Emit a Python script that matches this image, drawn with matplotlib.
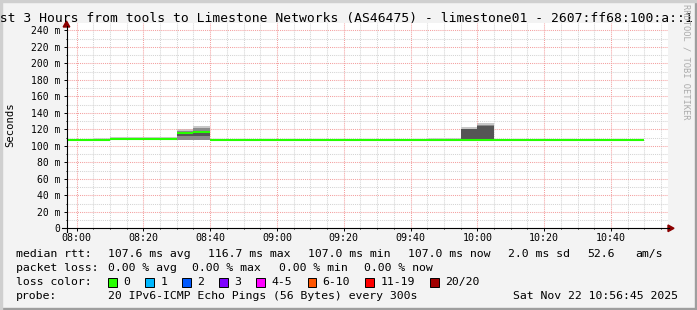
import matplotlib
matplotlib.use("Agg")
import matplotlib.pyplot as plt
from matplotlib.patches import Rectangle, Polygon
from matplotlib.ticker import MultipleLocator

# --- data: minutes after 08:00, rtt in ms ---
step_start = list(range(-5, 170, 5))
median_rtt = [107.0, 107.0, 107.0, 108.5, 108.5, 108.5, 108.5, 115.5, 116.7,
              107.0, 107.0, 107.0, 107.0, 107.0, 107.0, 107.0, 107.0, 107.0,
              107.0, 107.0, 107.0, 107.0, 107.0, 107.0, 107.0, 107.0, 107.0,
              107.0, 107.0, 107.0, 107.0, 107.0, 107.0, 107.0, 107.0]

# smoke (spread of the 20 pings) for the steps that show any
smoke_start = [5, 10, 15, 20, 25, 30, 35, 70, 75, 105, 110, 115, 120]
smoke_lo = [107.0, 107.5, 107.5, 107.5, 107.5, 107.5, 107.5, 107.0, 107.0, 107.0, 107.0, 107.5, 107.5]
smoke_hi = [110.0, 110.5, 110.5, 110.5, 110.5, 120.4, 124.0, 108.8, 108.8, 109.2, 109.2, 122.4, 128.0]
smoke_mid = [107.0, 108.0, 108.0, 108.0, 108.0, 118.5, 121.5, 107.0, 107.0, 107.0, 107.0, 120.4, 125.8]
core_lo = [107.0, 107.5, 107.5, 107.5, 107.5, 112.3, 112.3, 107.0, 107.0, 107.0, 107.0, 107.5, 107.5]
core_hi = [107.0, 107.5, 107.5, 107.5, 107.5, 114.5, 115.0, 107.0, 107.0, 107.0, 107.0, 120.4, 124.0]

time_labels = ["08:00", "08:20", "08:40", "09:00", "09:20", "09:40", "10:00", "10:20", "10:40"]
y_ticks = [0, 20, 40, 60, 80, 100, 120, 140, 160, 180, 200, 220, 240]

loss_labels = ["0", "1", "2", "3", "4-5", "6-10", "11-19", "20/20"]
loss_colors = ["#26ff00", "#00b8ff", "#0059ff", "#7e00ff", "#ff00ff", "#ff5500", "#ff0000", "#a10000"]

W, H = 697, 310
BG = "#f3f3f3"
MONO = "DejaVu Sans Mono"

fig = plt.figure(figsize=(W / 100, H / 100), dpi=100, facecolor=BG)

# plot area in pixels
L, R, T, B = 66.5, 667.7, 23.0, 228.3
ax = fig.add_axes([L / W, 1 - B / H, (R - L) / W, (B - T) / H])
ax.set_facecolor("white")
ax.set_xlim(-3.0, 177.0)
ax.set_ylim(0, (B - T) / 0.825)
for s in ax.spines.values():
    s.set_visible(False)


def fx(x):
    return x / W


def fy(y):
    return 1 - y / H


# smoke
ax.bar(smoke_start, [h - l for h, l in zip(smoke_hi, smoke_lo)], bottom=smoke_lo,
       width=5, align="edge", color="#c8c8c8", linewidth=0, zorder=2)
ax.bar(smoke_start, [m - l for m, l in zip(smoke_mid, smoke_lo)], bottom=smoke_lo,
       width=5, align="edge", color="#8c8c8c", linewidth=0, zorder=3)
ax.bar(smoke_start, [h - l for h, l in zip(core_hi, core_lo)], bottom=core_lo,
       width=5, align="edge", color="#555555", linewidth=0, zorder=4)

# median line, one flat piece per 5 minute step
step_end = [s + 5 for s in step_start]
ax.hlines(median_rtt, step_start, step_end, color="#26ff00", linewidth=1.5, zorder=5)

# grid (drawn over the data like rrdtool)
ax.xaxis.set_major_locator(MultipleLocator(20))
ax.xaxis.set_minor_locator(MultipleLocator(5))
ax.yaxis.set_major_locator(MultipleLocator(20))
ax.yaxis.set_minor_locator(MultipleLocator(10))
ax.grid(which="minor", color="#d4d4d4", linestyle=(0, (1, 1)), linewidth=0.75, zorder=6)
ax.grid(which="major", color="#f4a0a0", linestyle=(0, (1, 1)), linewidth=0.75, zorder=7)
ax.set_axisbelow(False)

ax.set_xticks(range(0, 161, 20))
ax.set_xticklabels(time_labels, family=MONO, fontsize=7.2)
ax.set_yticks(y_ticks)
ax.set_yticklabels([f"{v} m" if v else "0" for v in y_ticks], family=MONO, fontsize=7.0)
ax.tick_params(which="major", direction="out", length=2, width=0.7, color="#000000", pad=2.5)
ax.tick_params(axis="x", which="major", pad=1.5)
ax.tick_params(which="minor", direction="out", length=1, width=0.7, color="#000000")

# axes with arrows
fig.add_artist(plt.Line2D([fx(62), fx(669)], [fy(B), fy(B)], color="black", linewidth=0.8))
fig.add_artist(plt.Line2D([fx(L), fx(L)], [fy(232), fy(26)], color="black", linewidth=0.8))
fig.add_artist(Polygon([(fx(674), fy(B)), (fx(668), fy(B - 3.3)), (fx(668), fy(B + 3.3))],
                       closed=True, transform=fig.transFigure, color="#8b0000"))
fig.add_artist(Polygon([(fx(L), fy(21)), (fx(L - 3.3), fy(27)), (fx(L + 3.3), fy(27))],
                       closed=True, transform=fig.transFigure, color="#8b0000"))

# title and side texts
fig.text(fx(-15.7), fy(18.5),
         "Last 3 Hours from tools to Limestone Networks (AS46475) - limestone01 - 2607:ff68:100:a::1",
         family=MONO, fontsize=9.4, ha="left", va="center")
fig.text(fx(10.5), fy(125), "Seconds", family=MONO, fontsize=7.6, rotation=90, ha="center", va="center")
fig.text(fx(686), fy(4), "RRDTOOL / TOBI OETIKER", family=MONO, fontsize=6.3, color="#aaaaaa",
         rotation=270, ha="center", va="top")

# legend rows
fs = 8.25
rows = [
    (254.3, [(15.5, "median rtt:"), (107.6, "107.6 ms avg"), (207.6, "116.7 ms max"),
             (307.6, "107.0 ms min"), (407.6, "107.0 ms now"), (507.6, "2.0 ms sd"),
             (587.5, "52.6"), (635.6, "am/s")]),
    (268.3, [(15.5, "packet loss:"), (107.6, "0.00 % avg"), (192.4, "0.00 % max"),
             (279.0, "0.00 % min"), (364.4, "0.00 % now")]),
    (282.3, [(15.5, "loss color:")]),
    (296.3, [(15.5, "probe:"), (108.0, "20 IPv6-ICMP Echo Pings (56 Bytes) every 300s"),
             (513.3, "Sat Nov 22 10:56:45 2025")]),
]
for y, items in rows:
    for x, s in items:
        fig.text(fx(x), fy(y), s, family=MONO, fontsize=fs, ha="left", va="center")

box_x = [108.0, 145.3, 182.2, 219.0, 256.4, 307.6, 365.3, 430.2]
for bx, lab, col in zip(box_x, loss_labels, loss_colors):
    fig.add_artist(Rectangle((fx(bx), fy(286.7)), 8.5 / W, 9 / H, transform=fig.transFigure,
                             facecolor=col, edgecolor="black", linewidth=0.7))
    fig.text(fx(bx + 15), fy(282.3), lab, family=MONO, fontsize=fs, ha="left", va="center")

# 3d frame
fig.add_artist(Rectangle((0, 0), 1, 2 / H, transform=fig.transFigure, color="#9e9e9e"))
fig.add_artist(Rectangle((1 - 2 / W, 0), 2 / W, 1, transform=fig.transFigure, color="#9e9e9e"))
fig.add_artist(Rectangle((0, 1 - 2 / H), 1, 2 / H, transform=fig.transFigure, color="#cfcfcf"))
fig.add_artist(Rectangle((0, 0), 2 / W, 1, transform=fig.transFigure, color="#cfcfcf"))

fig.savefig("out.png", dpi=100, facecolor=BG)
